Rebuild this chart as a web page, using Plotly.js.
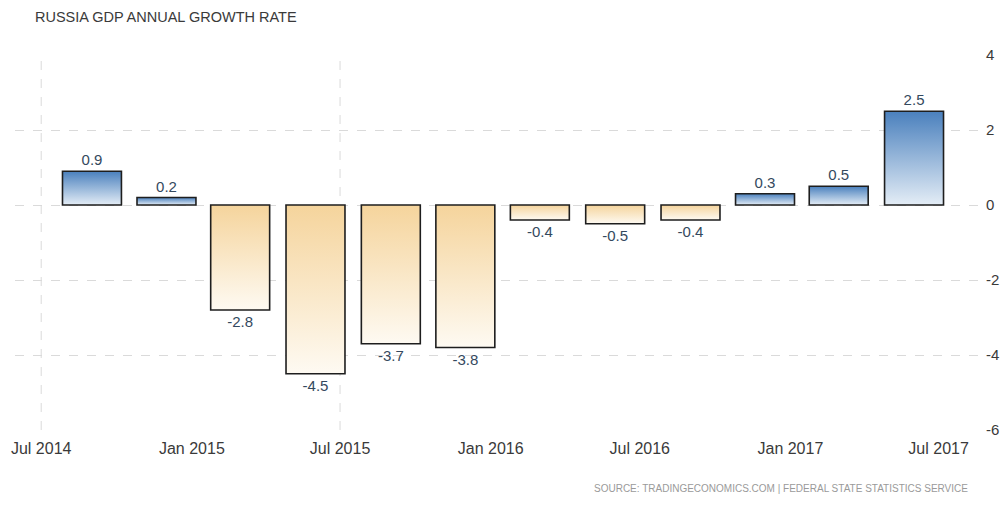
<!DOCTYPE html>
<html>
<head>
<meta charset="utf-8">
<script src="https://cdn.plot.ly/plotly-3.0.1.min.js"></script>
<style>
  html, body { margin: 0; padding: 0; background: #fff; }
  #chart { width: 1007px; height: 506px; }
</style>
</head>
<body>
<div id="chart"></div>
<script>
// Quarterly observations (positioned on the date axis as drawn in the reference)
const quarterDates = ["2014-09-01", "2014-12-01", "2015-03-01", "2015-06-01",
                      "2015-09-01", "2015-12-01", "2016-03-01", "2016-06-01",
                      "2016-09-01", "2016-12-01", "2017-03-01", "2017-06-01"];
const gdpGrowth = [0.9, 0.2, -2.8, -4.5, -3.7, -3.8, -0.4, -0.5, -0.4, 0.3, 0.5, 2.5];

const xTickDates = ["2014-07-01", "2015-01-01", "2015-07-01", "2016-01-01",
                    "2016-07-01", "2017-01-01", "2017-07-01"];
const xTickLabels = ["Jul 2014", "Jan 2015", "Jul 2015", "Jan 2016",
                     "Jul 2016", "Jan 2017", "Jul 2017"];
const yTickVals = [4, 2, 0, -2, -4, -6];
const yTickLabels = ["4", "2", "0", "-2", "-4", "-6"];
const gridDates = ["2014-07-01", "2015-07-01"];

const POS = "#8fb1d6", NEG = "#f8e4c2";
const FONT = "'Liberation Sans', Arial, sans-serif";

const trace = {
  type: "bar",
  x: quarterDates,
  y: gdpGrowth,
  width: 72 * 86400000,
  marker: {
    color: gdpGrowth.map(v => v >= 0 ? POS : NEG),
    line: { color: "#1e1e1e", width: 1.6 }
  },
  texttemplate: "%{y:.1f}",
  textposition: "outside",
  cliponaxis: false,
  textfont: { family: FONT, size: 15, color: "#34495e" },
  hoverinfo: "x+y"
};

const layout = {
  width: 1007,
  height: 506,
  margin: { l: 15, r: 25, t: 55, b: 76 },
  paper_bgcolor: "#ffffff",
  plot_bgcolor: "#ffffff",
  showlegend: false,
  title: {
    text: "RUSSIA GDP ANNUAL GROWTH RATE",
    x: 35 / 1007, xanchor: "left",
    y: 1 - 17 / 506, yanchor: "middle",
    font: { family: FONT, size: 14.5, color: "#3a3a3a" }
  },
  xaxis: {
    type: "date",
    range: ["2014-05-30", "2017-08-23"],
    tickmode: "array",
    tickvals: xTickDates,
    ticktext: xTickLabels,
    showgrid: false,
    zeroline: false,
    showline: false,
    ticks: "",
    ticklabelstandoff: 7,
    tickfont: { family: FONT, size: 16, color: "#3a3a3a" }
  },
  yaxis: {
    side: "right",
    range: [-6, 4],
    tickmode: "array",
    tickvals: yTickVals,
    ticktext: yTickLabels,
    showgrid: true,
    gridcolor: "#dadada",
    griddash: "dash",
    gridwidth: 1,
    zeroline: false,
    showline: false,
    ticks: "",
    ticklabelstandoff: 3,
    tickfont: { family: FONT, size: 15, color: "#3a3a3a" }
  },
  shapes: gridDates.map(d => ({
    type: "line", xref: "x", yref: "paper",
    x0: d, x1: d, y0: 0, y1: 1,
    line: { color: "#dadada", width: 1, dash: "dash" },
    layer: "below"
  })),
  annotations: [{
    text: "SOURCE: TRADINGECONOMICS.COM | FEDERAL STATE STATISTICS SERVICE",
    xref: "paper", yref: "paper",
    x: (970 - 15) / 967, xanchor: "right",
    y: -(488 - 430) / 375, yanchor: "middle",
    showarrow: false,
    font: { family: FONT, size: 10, color: "#9a9a9a" }
  }]
};

Plotly.newPlot("chart", [trace], layout, { displayModeBar: false, staticPlot: true }).then(gd => {
  // Apply vertical gradients to the bars, as in the reference styling
  const svg = gd.querySelector(".main-svg");
  const ns = "http://www.w3.org/2000/svg";
  let defs = svg.querySelector("defs");
  if (!defs) { defs = document.createElementNS(ns, "defs"); svg.insertBefore(defs, svg.firstChild); }
  function grad(id, stops) {
    const g = document.createElementNS(ns, "linearGradient");
    g.setAttribute("id", id);
    g.setAttribute("x1", "0"); g.setAttribute("y1", "0");
    g.setAttribute("x2", "0"); g.setAttribute("y2", "1");
    stops.forEach(([o, c]) => {
      const s = document.createElementNS(ns, "stop");
      s.setAttribute("offset", o); s.setAttribute("stop-color", c);
      g.appendChild(s);
    });
    defs.appendChild(g);
  }
  grad("gradPos", [["0", "#4a80bd"], ["1", "#e4edf6"]]);
  grad("gradNeg", [["0", "#f5d49c"], ["1", "#fefaf2"]]);
  const paths = gd.querySelectorAll(".trace.bars .point path");
  paths.forEach((p, i) => {
    p.style.fill = gdpGrowth[i] >= 0 ? "url(#gradPos)" : "url(#gradNeg)";
  });
});
</script>
</body>
</html>
